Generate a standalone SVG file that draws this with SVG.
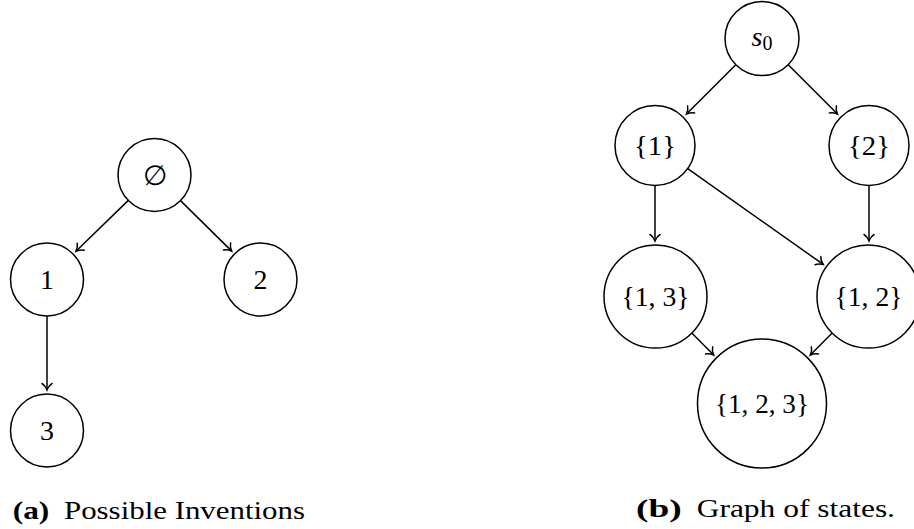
<svg xmlns="http://www.w3.org/2000/svg" width="914" height="529" viewBox="0 0 914 529">
<style>
.node circle { fill: #fff; stroke: #000; stroke-width: 1.5; }
.node text { font-family: "Liberation Serif", serif; font-size: 28px; text-anchor: middle; fill: #000; }
.edges line { stroke: #000; stroke-width: 1.5; marker-end: url(#arr); }
.cap { font-family: "Liberation Serif", serif; font-size: 25px; fill: #000; }
</style>
<defs>
<marker id="arr" markerUnits="userSpaceOnUse" viewBox="-9 -7 11 14" markerWidth="11" markerHeight="14" refX="0" refY="0" orient="auto" overflow="visible">
<path d="M -6.5,-5 C -5,-2.5 -1.5,-0.6 0,0 C -1.5,0.6 -5,2.5 -6.5,5" fill="none" stroke="#000" stroke-width="1.5" stroke-linecap="round"/>
</marker>
</defs>
<rect width="914" height="529" fill="#fff"/>

<g class="edges" id="connectors">
<line x1="128.3" y1="200.4" x2="76" y2="251.3"/>
<line x1="180.5" y1="200.6" x2="231.7" y2="251.1"/>
<line x1="47" y1="316" x2="47" y2="390"/>
<line x1="735.8" y1="64.7" x2="686.5" y2="114"/>
<line x1="788.2" y1="64.7" x2="837.5" y2="114"/>
<line x1="655" y1="185.5" x2="655" y2="241"/>
<line x1="869" y1="185.5" x2="869" y2="241"/>
<line x1="687.7" y1="168.6" x2="823.2" y2="264.4"/>
<line x1="691.8" y1="333" x2="713.7" y2="355"/>
<line x1="832.2" y1="333" x2="810.3" y2="355"/>
</g>

<g class="node" id="n-empty"><circle cx="154.5" cy="175" r="36.5"/><text x="154.5" y="184.5">∅</text></g>
<g class="node" id="n-1"><circle cx="47" cy="279.5" r="36.5"/><text x="47" y="289.3">1</text></g>
<g class="node" id="n-2"><circle cx="260.5" cy="279.5" r="36.5"/><text x="260.5" y="289.3">2</text></g>
<g class="node" id="n-3"><circle cx="47" cy="430.5" r="36.5"/><text x="47" y="440.3">3</text></g>

<g class="node" id="s0"><circle cx="762" cy="38.5" r="37"/><text x="762" y="46"><tspan font-style="italic">s</tspan><tspan font-size="20" dy="4">0</tspan></text></g>
<g class="node" id="s-1"><circle cx="655" cy="145.5" r="40"/><text x="655" y="155" textLength="42" lengthAdjust="spacingAndGlyphs">{1}</text></g>
<g class="node" id="s-2"><circle cx="869" cy="145.5" r="40"/><text x="869" y="155" textLength="42" lengthAdjust="spacingAndGlyphs">{2}</text></g>
<g class="node" id="s-13"><circle cx="655.5" cy="296.5" r="51.5"/><text x="655.5" y="306" textLength="68" lengthAdjust="spacingAndGlyphs">{1, 3}</text></g>
<g class="node" id="s-12"><circle cx="868.5" cy="296.5" r="51.5"/><text x="868.5" y="306" textLength="68" lengthAdjust="spacingAndGlyphs">{1, 2}</text></g>
<g class="node" id="s-123"><circle cx="762" cy="403.5" r="64.5"/><text x="762" y="413" textLength="94" lengthAdjust="spacingAndGlyphs">{1, 2, 3}</text></g>

<g id="captions">
<text class="cap" y="518.5"><tspan x="12.7" font-weight="bold" textLength="36.6" lengthAdjust="spacingAndGlyphs">(a)</tspan><tspan x="64" textLength="241" lengthAdjust="spacingAndGlyphs">Possible Inventions</tspan></text>
<text class="cap" y="516.5"><tspan x="636" font-weight="bold" textLength="45.7" lengthAdjust="spacingAndGlyphs">(b)</tspan><tspan x="696.7" textLength="198.3" lengthAdjust="spacingAndGlyphs">Graph of states.</tspan></text>
</g>
</svg>
